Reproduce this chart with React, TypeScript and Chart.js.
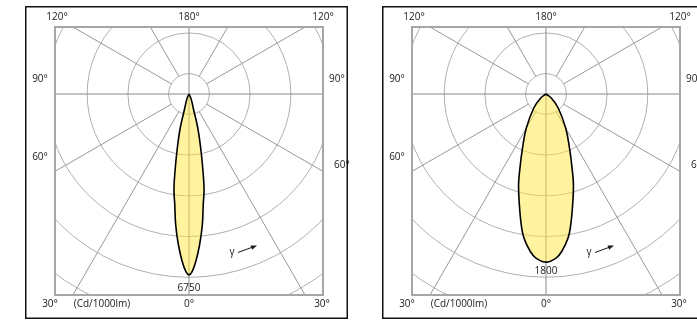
import React, { useEffect, useRef } from "react";
import { Chart, registerables } from "chart.js";

Chart.register(...registerables);

// ---- Data ----
// Left luminaire: beam angle (deg from nadir) vs intensity (cd/1000lm)
const gammaLeft = [0, 1, 2.3, 4, 5.8, 7.3, 9, 10.5, 12.2, 14.5, 16.7, 20, 24, 28];
const intensityLeft = [6750, 6630, 6262, 5648, 4913, 4175, 3589, 2809, 2062, 1310, 546, 320, 164, 0];
// Right luminaire
const gammaRight = [0, 3.5, 5.7, 8.7, 10.7, 13.5, 16.8, 19.4, 23.5, 30.1, 41, 53, 62];
const intensityRight = [1800, 1760, 1695, 1561, 1426, 1221, 1017, 839, 630, 420, 199, 71, 0];

// Grid rings (cd/1000lm) and scale spans
const ringsLeft = [760, 2280, 3800, 5320, 6840, 8360];
const ringsRight = [218, 654, 1090, 1526, 1962, 2398];
const spanLeft = 10000;
const spanRight = 2870;

// Spoke angles (deg)
const spokeAngles = [0, 30, 60, 90, 120, 150, 180, 210, 240, 270, 300, 330];

// Peak labels
const peakLabelLeft = "6750";
const peakLabelRight = "1800";
const unitLabel = "(Cd/1000lm)";

const FONT = '10px "Open Sans", "Noto Sans", sans-serif';
const CANVAS_W = 345;
const CANVAS_H = 313;
const FRAME_W = 323;

type PanelProps = {
  gamma: number[];
  intensity: number[];
  rings: number[];
  span: number;
  peakLabel: string;
  peakOffset: number;
  left: number;
};

function buildPoints(gamma: number[], intensity: number[]) {
  const pts: { x: number; y: number }[] = [];
  for (let i = gamma.length - 1; i >= 1; i--) {
    const g = (-gamma[i] * Math.PI) / 180;
    pts.push({ x: intensity[i] * Math.sin(g), y: -intensity[i] * Math.cos(g) });
  }
  for (let i = 0; i < gamma.length; i++) {
    const g = (gamma[i] * Math.PI) / 180;
    pts.push({ x: intensity[i] * Math.sin(g), y: -intensity[i] * Math.cos(g) });
  }
  return pts;
}

function Panel({ gamma, intensity, rings, span, peakLabel, peakOffset, left }: PanelProps) {
  const ref = useRef<HTMLCanvasElement | null>(null);
  useEffect(() => {
    if (!ref.current) return;
    const plugin = {
      id: "polarDecor",
      beforeDatasetsDraw(chart: any) {
        const { ctx, chartArea: a, scales } = chart;
        const sx = scales.x;
        const sy = scales.y;
        const cx = sx.getPixelForValue(0);
        const cy = sy.getPixelForValue(0);
        const ppu = Math.abs(sx.getPixelForValue(1000) - cx) / 1000;
        ctx.save();
        ctx.beginPath();
        ctx.rect(a.left, a.top, a.right - a.left, a.bottom - a.top);
        ctx.clip();
        ctx.strokeStyle = "#b0b0b0";
        ctx.lineWidth = 1;
        rings.forEach((v) => {
          ctx.beginPath();
          ctx.arc(cx, cy, v * ppu, 0, Math.PI * 2);
          ctx.stroke();
        });
        const r0 = rings[0] * ppu;
        spokeAngles.forEach((deg) => {
          const t = (deg * Math.PI) / 180;
          const dx = Math.sin(t);
          const dy = Math.cos(t);
          const full = deg % 90 === 0;
          const start = full ? 0 : r0;
          ctx.strokeStyle = full ? "#8a8a8a" : "#989898";
          ctx.beginPath();
          ctx.moveTo(cx + dx * start, cy + dy * start);
          ctx.lineTo(cx + dx * 1000, cy + dy * 1000);
          ctx.stroke();
        });
        ctx.restore();
      },
      afterDatasetsDraw(chart: any) {
        const { ctx, chartArea: a } = chart;
        ctx.save();
        ctx.strokeStyle = "#a6a6a6";
        ctx.lineWidth = 2;
        ctx.strokeRect(a.left, a.top, a.right - a.left, a.bottom - a.top);
        ctx.restore();
      },
      afterDraw(chart: any) {
        const { ctx, chartArea: a, scales, height } = chart;
        const cx = scales.x.getPixelForValue(0);
        const cy = scales.y.getPixelForValue(0);
        const peakPx = scales.y.getPixelForValue(-intensity[0]);
        ctx.save();
        ctx.strokeStyle = "#111";
        ctx.lineWidth = 1.5;
        ctx.strokeRect(0.75, 0.75, FRAME_W - 1.5, height - 1.5);
        ctx.fillStyle = "#1a1a1a";
        ctx.font = FONT;
        ctx.textBaseline = "middle";
        ctx.textAlign = "center";
        const topY = a.top - 10;
        const botY = a.bottom + 9;
        ctx.fillText("120°", a.left + 2, topY);
        ctx.fillText("180°", cx, topY);
        ctx.fillText("120°", a.right, topY);
        ctx.fillText("90°", a.left - 15, cy - 15);
        ctx.fillText("60°", a.left - 15, cy + 63);
        ctx.fillText("30°", a.left - 5, botY);
        ctx.fillText(unitLabel, a.left + 47, botY);
        ctx.fillText("0°", cx, botY);
        ctx.fillText("30°", a.right - 1, botY);
        ctx.fillText(peakLabel, cx, peakPx + peakOffset);
        ctx.textAlign = "left";
        ctx.fillText("90°", a.right + 6, cy - 15);
        ctx.fillText("60°", a.right + 11, cy + 71);
        ctx.textAlign = "center";
        ctx.fillText("γ", cx + 43, cy + 158);
        const x1 = cx + 49, y1 = cy + 158.5, x2 = cx + 68, y2 = cy + 151.5;
        ctx.strokeStyle = "#1a1a1a";
        ctx.lineWidth = 1;
        ctx.beginPath();
        ctx.moveTo(x1, y1);
        ctx.lineTo(x2 - 3, y2 + 1.1);
        ctx.stroke();
        const ang = Math.atan2(y2 - y1, x2 - x1);
        ctx.beginPath();
        ctx.moveTo(x2, y2);
        ctx.lineTo(x2 - 6 * Math.cos(ang) + 2.3 * Math.sin(ang), y2 - 6 * Math.sin(ang) - 2.3 * Math.cos(ang));
        ctx.lineTo(x2 - 6 * Math.cos(ang) - 2.3 * Math.sin(ang), y2 - 6 * Math.sin(ang) + 2.3 * Math.cos(ang));
        ctx.closePath();
        ctx.fill();
        ctx.restore();
      },
    };

    const chart = new Chart(ref.current, {
      type: "scatter",
      data: {
        datasets: [
          {
            data: buildPoints(gamma, intensity),
            showLine: true,
            fill: "shape" as any,
            backgroundColor: "rgba(255, 231, 65, 0.5)",
            borderColor: "#000",
            borderWidth: 1.6,
            pointRadius: 0,
            tension: 0.4,
          },
        ],
      },
      options: {
        responsive: false,
        animation: false,
        events: [],
        layout: { padding: { left: 30, top: 21, right: CANVAS_W - 298, bottom: 24 } },
        plugins: { legend: { display: false }, tooltip: { enabled: false } },
        scales: {
          x: { type: "linear", display: false, min: -span / 2, max: span / 2 },
          y: { type: "linear", display: false, min: -span * 0.75, max: span * 0.25 },
        },
      },
      plugins: [plugin],
    });
    return () => chart.destroy();
  }, []);
  return (
    <canvas
      ref={ref}
      width={CANVAS_W}
      height={CANVAS_H}
      style={{ position: "absolute", left, top: 6, width: CANVAS_W, height: CANVAS_H }}
    />
  );
}

export default function App() {
  return (
    <div
      style={{
        position: "fixed",
        left: 0,
        top: 0,
        width: 697,
        height: 320,
        overflow: "hidden",
        background: "#fff",
      }}
    >
      <Panel
        gamma={gammaLeft}
        intensity={intensityLeft}
        rings={ringsLeft}
        span={spanLeft}
        peakLabel={peakLabelLeft}
        peakOffset={13}
        left={25}
      />
      <Panel
        gamma={gammaRight}
        intensity={intensityRight}
        rings={ringsRight}
        span={spanRight}
        peakLabel={peakLabelRight}
        peakOffset={9}
        left={382}
      />
    </div>
  );
}
